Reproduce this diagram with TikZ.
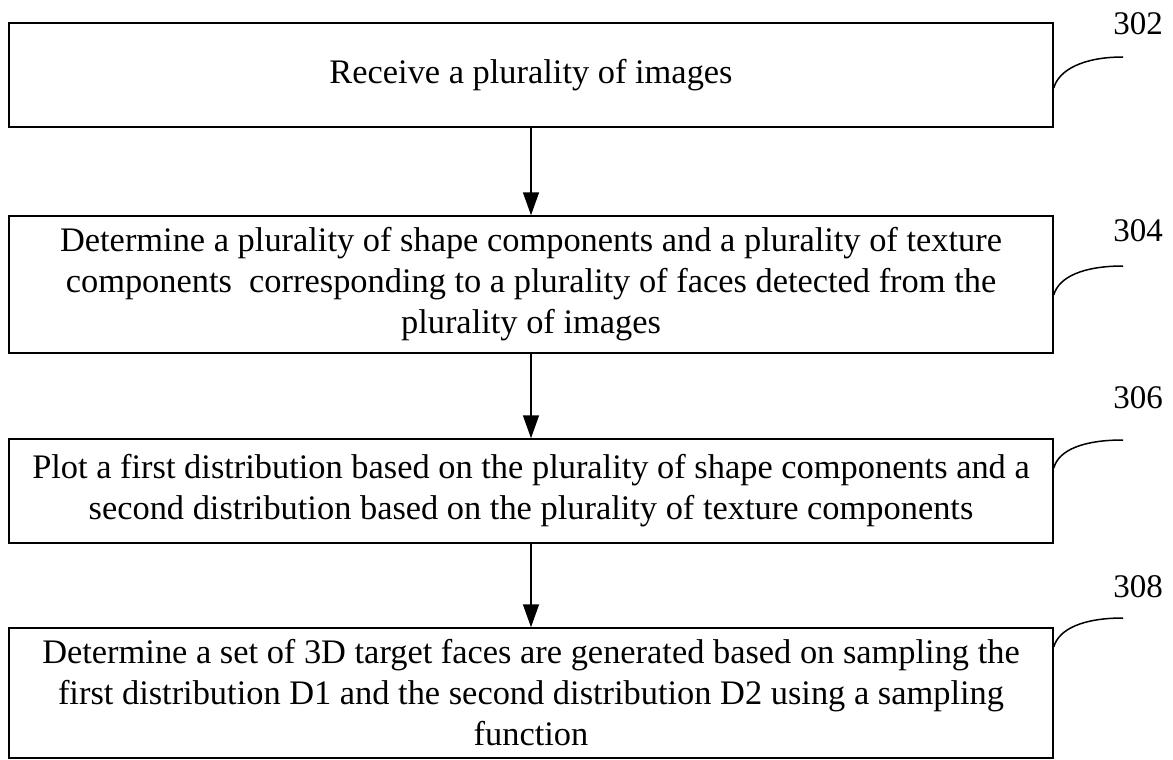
\documentclass[tikz,border=0pt]{standalone}
\usepackage{fontspec}
\setmainfont{Liberation Serif}
\usetikzlibrary{arrows.meta}
\begin{document}
\begin{tikzpicture}[x=1pt,y=-1pt,
  stepbox/.style={draw,line width=1.5pt,rectangle,minimum width=1044pt,
    inner sep=0pt,align=center,font=\fontsize{34.4}{41}\selectfont},
  flow/.style={line width=1.5pt,-{Triangle[width=16pt,length=23pt]}},
  leader/.style={line width=1.5pt},
  reflabel/.style={font=\fontsize{33}{38}\selectfont,inner sep=0pt}]
\useasboundingbox (0,0) rectangle (1173,760);

\node[stepbox,minimum height=104pt] (b1) at (531,75) {Receive a plurality of images};
\node[stepbox,minimum height=137pt] (b2) at (531,284.5)
  {Determine a plurality of shape components and a plurality of texture\\
   components\ \ corresponding to a plurality of faces detected from the\\
   plurality of images};
\node[stepbox,minimum height=104pt] (b3) at (531,491)
  {Plot a first distribution based on the plurality of shape components and a\\
   second distribution based on the plurality of texture components};
\node[stepbox,minimum height=130pt] (b4) at (531,693)
  {Determine a set of 3D target faces are generated based on sampling the\\
   first distribution D1 and the second distribution D2 using a sampling\\
   function};

\draw[flow] (b1) -- (b2);
\draw[flow] (b2) -- (b3);
\draw[flow] (b3) -- (b4);

% reference numerals with their leader curves
\node[reflabel] (l1) at (1138,24) {302};
\node[reflabel] (l2) at (1138,231) {304};
\node[reflabel] (l3) at (1138,398) {306};
\node[reflabel] (l4) at (1138,587) {308};

\coordinate (e1) at (1123,57);
\coordinate (e2) at (1123,266);
\coordinate (e3) at (1123,440);
\coordinate (e4) at (1123,618);

\draw[leader] ([yshift=-13pt]b1.east) .. controls +(5,-18) and +(-40,0) .. (e1);
\draw[leader] ([yshift=-10.5pt]b2.east) .. controls +(5,-18) and +(-40,0) .. (e2);
\draw[leader] ([yshift=23pt]b3.east) .. controls +(5,-18) and +(-40,0) .. (e3);
\draw[leader] ([yshift=46pt]b4.east) .. controls +(5,-18) and +(-40,0) .. (e4);
\end{tikzpicture}
\end{document}
